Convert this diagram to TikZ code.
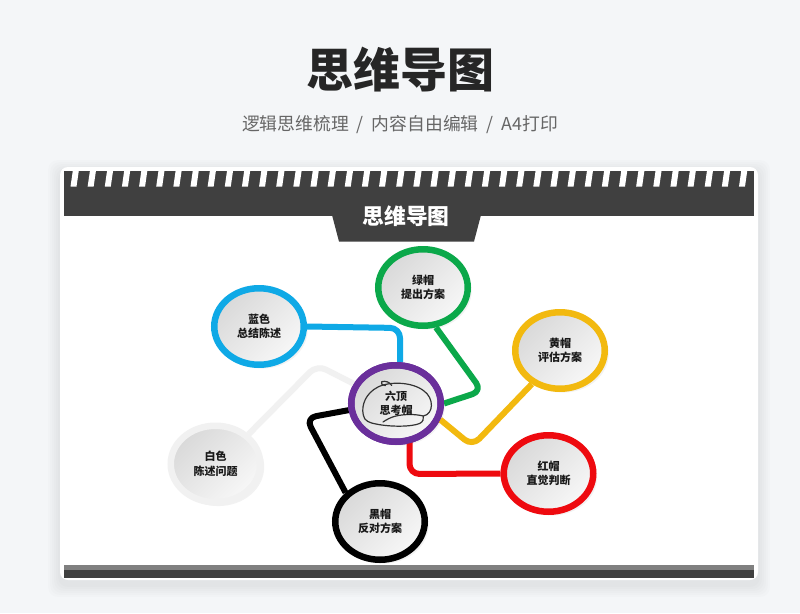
\documentclass[tikz,border=0pt]{standalone}
\usepackage{fontspec}
\setmainfont{Noto Sans CJK SC}
\usetikzlibrary{shapes.geometric,shadows}
\definecolor{pagebg}{HTML}{F4F6F8}
\definecolor{bandc}{HTML}{404040}
\definecolor{cgreen}{HTML}{0BA84A}
\definecolor{cblue}{HTML}{0FA9E6}
\definecolor{cyellow}{HTML}{F2B90F}
\definecolor{cred}{HTML}{EE0A0F}
\definecolor{cpurple}{HTML}{6A2F9B}
\definecolor{cwhite}{HTML}{F1F1F1}
\tikzset{
  x=1pt,y=-1pt,
  hat/.style={ellipse,draw=#1,line width=6.5pt,inner sep=0pt,minimum width=89.5pt,minimum height=76.5pt,
    top color=black!15,bottom color=black!3,shading angle=45,align=center,
    font=\fontsize{11}{14.5}\selectfont\bfseries,text=black!90,
    general shadow={fill=black,opacity=.05,shadow xshift=3pt,shadow yshift=-3pt,shadow scale=1.02}},
  link/.style={draw=#1,line width=6pt,rounded corners=10pt,line join=round},
  beret/.style={draw=black!80,line width=1.2pt,line join=round,line cap=round},
}
\begin{document}
\begin{tikzpicture}
\useasboundingbox (0,0) rectangle (800,613);
\fill[pagebg] (0,0) rectangle (800,613);
% card shadow
\foreach \g in {12,10,8,6,4,2}{
  \fill[black,opacity=.01,rounded corners=10pt] (60-\g,167-\g+5) rectangle (758+\g,580+\g+5);
}
\fill[white,rounded corners=8pt] (60,167) rectangle (758,580);
% header band
\fill[bandc] (64,170.5) rectangle (754,215.5);
\foreach \i in {0,...,39}{
  \pgfmathsetmacro{\xx}{70.5+17.14*\i}
  \fill[white] (\xx,186.7) -- (\xx+6,186.7) -- (\xx+8.4,170) -- (\xx+2.4,170) -- cycle;
}
% bottom bar
\fill[black!50] (64,565) rectangle (754,570);
\fill[bandc] (64,570) rectangle (754,577.5);
% tab
\fill[bandc] (332,215) -- (339,241.5) -- (474,241.5) -- (481,215) -- cycle;
% titles
\node[font=\fontsize{47}{47}\selectfont\bfseries,text=black!85] (maintitle) at (400.5,70) {思维导图};
\node[font=\fontsize{17.8}{20}\selectfont,text=black!60] (subtitle) at (400,125) {逻辑思维梳理\ \ /\ \ 内容自由编辑\ \ /\ \ A4打印};
\node[font=\fontsize{21.8}{22}\selectfont\bfseries,text=white] (tabtitle) at (406,216) {思维导图};
% hats
\node[hat=cpurple] (hub) at (396,403.5) {};
\node[hat=cgreen] (green) at (423,287.5) {绿帽\\提出方案};
\node[hat=cblue] (blue) at (259,326.5) {蓝色\\总结陈述};
\node[hat=cyellow] (yellow) at (560,350.5) {黄帽\\评估方案};
\node[hat=cred] (red) at (548.5,473.5) {红帽\\直觉判断};
\node[hat=black] (blackhat) at (380,521.5) {黑帽\\反对方案};
\node[hat=cwhite] (whitehat) at (215.5,464) {白色\\陈述问题};
% bends and free ends
\coordinate (b1) at (400,328);
\coordinate (b2) at (400,362);
\coordinate (g1) at (482,391);
\coordinate (y1) at (472.3,446);
\coordinate (r0) at (409.5,440);
\coordinate (r1) at (409.5,474);
\coordinate (k1) at (306,418);
\coordinate (w1) at (317,365);
% connectors
\path[link=cblue] (blue.east) -- (b1) -- (b2);
\path[link=cgreen] (green.-72) -- (g1) -- (hub.east);
\path[link=cyellow] (yellow.-130) -- (y1) -- (hub.-20);
\path[link=cred] (r0) -- (r1) -- (red.west);
\path[link=black] (hub.188) -- (k1) -- (blackhat.140);
\path[link=cwhite] (whitehat.42) -- (w1) -- (hub.155);
% redraw hub ring over connector ends
\draw[cpurple,line width=6.5pt] (396,403.5) ellipse [x radius=44.75,y radius=38.25];
% beret
\draw[beret] (423.3,416) .. controls (434,414) and (434,398) .. (424,391)
  .. controls (413,382) and (390,381) .. (378,387)
  .. controls (366,393) and (361,405) .. (363.3,415)
  .. controls (364,421) and (370,423) .. (376,424)
  .. controls (390,427) and (412,427) .. (420,423.3)
  .. controls (423,421.5) and (424,419) .. (423.3,416)
  .. controls (415,414) and (405,414) .. (396,416)
  .. controls (391,417) and (386,420) .. (383,422);
\draw[beret] (385.5,385.6) .. controls (382,385) and (380,383) .. (381.7,381.7)
  .. controls (385,380.5) and (390,382) .. (391.7,385.5);
\node[font=\fontsize{11}{14.5}\selectfont\bfseries,text=black!90,align=center] (hubtext) at (396,403.5) {六顶\\思考帽};
\end{tikzpicture}
\end{document}
